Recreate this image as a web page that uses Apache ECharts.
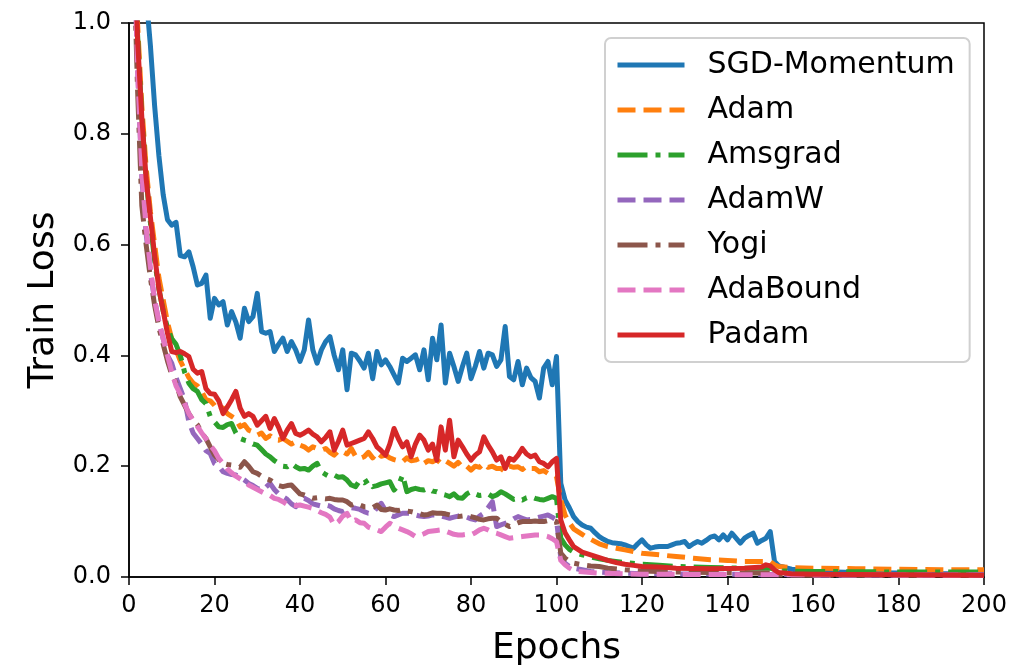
<!DOCTYPE html>
<html>
<head>
<meta charset="utf-8">
<script src="https://cdn.jsdelivr.net/npm/echarts@6/dist/echarts.min.js"></script>
<style>html,body{margin:0;padding:0;background:#fff}#c{width:1009px;height:665px}</style>
</head>
<body>
<div id="c"></div>
<script>
// ---- data: [epoch, train loss] pairs ----
const seriesNames = ['SGD-Momentum','Adam','Amsgrad','AdamW','Yogi','AdaBound','Padam'];
const xTicks = [0,20,40,60,80,100,120,140,160,180,200];
const yTicks = [0.0,0.2,0.4,0.6,0.8,1.0];

const sgd = [[0,2.3],[1,1.8],[2,1.45],[3,1.2],[4,1.05],[5,0.96],[6,0.85],[7,0.76],[8,0.69],[9,0.645],[10,0.635],[11,0.64],[12,0.58],[13,0.578],[14,0.587],[15,0.56],[16,0.527],[17,0.53],[18,0.545],[19,0.467],[20,0.503],[21,0.491],[22,0.497],[23,0.455],[24,0.479],[25,0.46],[26,0.431],[27,0.485],[28,0.461],[29,0.47],[30,0.512],[31,0.443],[32,0.44],[33,0.443],[34,0.407],[35,0.42],[36,0.431],[37,0.407],[38,0.425],[39,0.41],[40,0.389],[41,0.41],[42,0.464],[43,0.41],[44,0.386],[45,0.41],[46,0.425],[47,0.434],[48,0.4],[49,0.374],[50,0.41],[51,0.338],[52,0.404],[53,0.401],[54,0.39],[55,0.377],[56,0.404],[57,0.358],[58,0.407],[59,0.383],[60,0.392],[61,0.38],[62,0.365],[63,0.35],[64,0.395],[65,0.389],[66,0.395],[67,0.401],[68,0.374],[69,0.41],[70,0.356],[71,0.431],[72,0.392],[73,0.455],[74,0.35],[75,0.404],[76,0.38],[77,0.353],[78,0.38],[79,0.404],[80,0.358],[81,0.38],[82,0.407],[83,0.377],[84,0.404],[85,0.401],[86,0.38],[87,0.392],[88,0.452],[89,0.362],[90,0.356],[91,0.389],[92,0.347],[93,0.377],[94,0.36],[95,0.353],[96,0.323],[97,0.377],[98,0.389],[99,0.347],[100,0.398],[101,0.169],[102,0.139],[103,0.125],[104,0.109],[105,0.1],[106,0.094],[107,0.09],[108,0.088],[109,0.08],[110,0.073],[111,0.068],[112,0.064],[113,0.062],[114,0.061],[115,0.06],[116,0.058],[117,0.055],[118,0.052],[119,0.06],[120,0.067],[121,0.058],[122,0.052],[123,0.054],[124,0.055],[125,0.055],[126,0.055],[127,0.058],[128,0.061],[129,0.062],[130,0.064],[131,0.055],[132,0.06],[133,0.064],[134,0.061],[135,0.066],[136,0.072],[137,0.074],[138,0.067],[139,0.076],[140,0.067],[141,0.079],[142,0.07],[143,0.061],[144,0.07],[145,0.075],[146,0.079],[147,0.061],[148,0.066],[149,0.07],[150,0.082],[151,0.028],[152,0.02],[153,0.018],[154,0.016],[155,0.014],[160,0.01],[170,0.008],[180,0.007],[190,0.006],[200,0.006]];

const adam = [[0,2.0],[1,1.3],[2,1.0],[3,0.85],[4,0.74],[5,0.66],[6,0.6],[7,0.54],[8,0.5],[9,0.46],[10,0.43],[11,0.41],[12,0.39],[13,0.375],[14,0.36],[15,0.35],[16,0.345],[17,0.335],[18,0.32],[19,0.318],[20,0.31],[21,0.3],[22,0.305],[23,0.295],[24,0.29],[25,0.285],[26,0.271],[27,0.275],[28,0.265],[29,0.262],[30,0.256],[31,0.26],[32,0.25],[33,0.255],[34,0.248],[35,0.247],[36,0.25],[37,0.245],[38,0.24],[39,0.244],[40,0.238],[41,0.235],[42,0.229],[43,0.235],[44,0.232],[45,0.229],[46,0.232],[47,0.225],[48,0.22],[49,0.228],[50,0.226],[51,0.222],[52,0.232],[53,0.218],[54,0.214],[55,0.217],[56,0.225],[57,0.215],[58,0.225],[59,0.218],[60,0.22],[61,0.215],[62,0.212],[63,0.21],[64,0.208],[65,0.215],[66,0.21],[67,0.211],[68,0.214],[69,0.205],[70,0.21],[71,0.208],[72,0.212],[73,0.205],[74,0.21],[75,0.205],[76,0.2],[77,0.207],[78,0.198],[79,0.2],[80,0.193],[81,0.2],[82,0.198],[83,0.205],[84,0.198],[85,0.2],[86,0.196],[87,0.196],[88,0.19],[89,0.2],[90,0.198],[91,0.199],[92,0.194],[93,0.2],[94,0.196],[95,0.196],[96,0.19],[97,0.192],[98,0.187],[99,0.186],[100,0.181],[101,0.14],[102,0.112],[103,0.098],[104,0.087],[105,0.082],[106,0.077],[107,0.072],[108,0.068],[110,0.06],[112,0.055],[114,0.052],[116,0.049],[118,0.046],[120,0.043],[124,0.04],[128,0.037],[132,0.034],[136,0.031],[140,0.03],[144,0.028],[148,0.028],[150,0.028],[151,0.022],[152,0.019],[155,0.017],[160,0.016],[170,0.015],[180,0.014],[190,0.013],[200,0.013]];

const amsgrad = [[0,2.0],[1,1.3],[2,0.98],[3,0.83],[4,0.72],[5,0.64],[6,0.57],[7,0.52],[8,0.48],[9,0.45],[10,0.43],[11,0.42],[12,0.4],[13,0.37],[14,0.35],[15,0.34],[16,0.335],[17,0.32],[18,0.313],[19,0.29],[20,0.28],[21,0.271],[22,0.27],[23,0.275],[24,0.277],[25,0.26],[26,0.25],[27,0.247],[28,0.245],[29,0.24],[30,0.238],[31,0.23],[32,0.222],[33,0.217],[34,0.21],[35,0.205],[36,0.2],[37,0.199],[38,0.205],[39,0.199],[40,0.195],[41,0.196],[42,0.193],[43,0.2],[44,0.205],[45,0.19],[46,0.185],[47,0.181],[48,0.184],[49,0.18],[50,0.181],[51,0.175],[52,0.166],[53,0.163],[54,0.175],[55,0.17],[56,0.175],[57,0.163],[58,0.165],[59,0.168],[60,0.17],[61,0.172],[62,0.157],[63,0.165],[64,0.184],[65,0.154],[66,0.158],[67,0.16],[68,0.158],[69,0.157],[70,0.16],[71,0.155],[72,0.154],[73,0.15],[74,0.148],[75,0.145],[76,0.15],[77,0.143],[78,0.142],[79,0.15],[80,0.154],[81,0.15],[82,0.147],[83,0.148],[84,0.15],[85,0.145],[86,0.148],[87,0.154],[88,0.15],[89,0.145],[90,0.14],[91,0.142],[92,0.139],[93,0.143],[94,0.145],[95,0.142],[96,0.14],[97,0.139],[98,0.142],[99,0.145],[100,0.142],[101,0.07],[102,0.058],[103,0.05],[104,0.045],[106,0.04],[108,0.036],[110,0.033],[112,0.03],[116,0.026],[120,0.023],[124,0.021],[128,0.019],[136,0.017],[144,0.016],[150,0.016],[152,0.011],[160,0.01],[180,0.009],[200,0.009]];

const adamw = [[0,1.9],[1,1.2],[2,0.92],[3,0.72],[4,0.62],[5,0.55],[6,0.5],[7,0.46],[8,0.43],[9,0.4],[10,0.386],[11,0.36],[12,0.34],[13,0.32],[14,0.28],[15,0.26],[16,0.25],[17,0.24],[18,0.228],[19,0.223],[20,0.205],[21,0.2],[22,0.19],[23,0.187],[24,0.185],[25,0.184],[26,0.18],[27,0.175],[28,0.169],[29,0.165],[30,0.16],[31,0.157],[32,0.162],[33,0.169],[34,0.158],[35,0.15],[36,0.145],[37,0.14],[38,0.132],[39,0.127],[40,0.135],[41,0.142],[42,0.138],[43,0.132],[44,0.13],[45,0.128],[46,0.13],[47,0.128],[48,0.123],[49,0.12],[50,0.118],[51,0.122],[52,0.125],[53,0.124],[54,0.122],[55,0.118],[56,0.115],[57,0.115],[58,0.125],[59,0.133],[60,0.12],[61,0.112],[62,0.109],[63,0.112],[64,0.115],[65,0.115],[66,0.115],[67,0.112],[68,0.11],[69,0.109],[70,0.11],[71,0.112],[72,0.112],[73,0.11],[74,0.108],[75,0.106],[76,0.108],[77,0.11],[78,0.112],[79,0.108],[80,0.105],[81,0.103],[82,0.11],[83,0.115],[84,0.125],[85,0.136],[86,0.091],[87,0.094],[88,0.097],[89,0.1],[90,0.105],[91,0.109],[92,0.106],[93,0.103],[94,0.104],[95,0.106],[96,0.108],[97,0.11],[98,0.112],[99,0.108],[100,0.103],[101,0.035],[102,0.025],[103,0.019],[104,0.016],[106,0.013],[108,0.01],[112,0.008],[120,0.006],[140,0.005],[160,0.004],[200,0.004]];

const yogi = [[0,1.8],[1,1.15],[2,0.88],[3,0.67],[4,0.6],[5,0.54],[6,0.49],[7,0.45],[8,0.42],[9,0.39],[10,0.365],[11,0.35],[12,0.325],[13,0.31],[14,0.295],[15,0.283],[16,0.275],[17,0.26],[18,0.25],[19,0.235],[20,0.22],[21,0.212],[22,0.205],[23,0.203],[24,0.202],[25,0.2],[26,0.198],[27,0.208],[28,0.2],[29,0.19],[30,0.187],[31,0.182],[32,0.178],[33,0.175],[34,0.17],[35,0.165],[36,0.163],[37,0.165],[38,0.166],[39,0.158],[40,0.15],[41,0.148],[42,0.145],[43,0.142],[44,0.143],[45,0.142],[46,0.141],[47,0.142],[48,0.14],[49,0.139],[50,0.139],[51,0.136],[52,0.13],[53,0.133],[54,0.13],[55,0.127],[56,0.127],[57,0.125],[58,0.13],[59,0.122],[60,0.121],[61,0.123],[62,0.121],[63,0.12],[64,0.122],[65,0.119],[66,0.118],[67,0.116],[68,0.114],[69,0.112],[70,0.113],[71,0.116],[72,0.115],[73,0.115],[74,0.114],[75,0.112],[76,0.11],[77,0.109],[78,0.11],[79,0.111],[80,0.109],[81,0.107],[82,0.104],[83,0.103],[84,0.105],[85,0.106],[86,0.106],[87,0.1],[88,0.095],[89,0.091],[90,0.095],[91,0.098],[92,0.1],[93,0.1],[94,0.1],[95,0.101],[96,0.1],[97,0.1],[98,0.102],[99,0.103],[100,0.1],[101,0.043],[102,0.034],[103,0.028],[104,0.025],[106,0.022],[108,0.02],[110,0.019],[112,0.016],[116,0.013],[120,0.011],[128,0.009],[136,0.008],[144,0.007],[150,0.007],[152,0.004],[160,0.003],[200,0.003]];

const adabound = [[0,1.9],[1,1.2],[2,0.92],[3,0.73],[4,0.63],[5,0.56],[6,0.5],[7,0.46],[8,0.43],[9,0.4],[10,0.37],[11,0.345],[12,0.33],[13,0.313],[14,0.295],[15,0.283],[16,0.272],[17,0.26],[18,0.25],[19,0.238],[20,0.228],[21,0.214],[22,0.205],[23,0.195],[24,0.188],[25,0.182],[26,0.177],[27,0.172],[28,0.166],[29,0.162],[30,0.158],[31,0.154],[32,0.15],[33,0.147],[34,0.142],[35,0.14],[36,0.136],[37,0.131],[38,0.13],[39,0.129],[40,0.13],[41,0.128],[42,0.126],[43,0.124],[44,0.12],[45,0.116],[46,0.113],[47,0.108],[48,0.094],[49,0.1],[50,0.11],[51,0.115],[52,0.1],[53,0.103],[54,0.098],[55,0.097],[56,0.09],[57,0.087],[58,0.085],[59,0.082],[60,0.09],[61,0.097],[62,0.093],[63,0.088],[64,0.085],[65,0.082],[66,0.078],[67,0.073],[68,0.075],[69,0.078],[70,0.082],[71,0.083],[72,0.084],[73,0.085],[74,0.083],[75,0.08],[76,0.077],[77,0.076],[78,0.076],[79,0.077],[80,0.076],[81,0.08],[82,0.085],[83,0.088],[84,0.085],[85,0.081],[86,0.079],[87,0.076],[88,0.073],[89,0.07],[90,0.071],[91,0.072],[92,0.073],[93,0.074],[94,0.075],[95,0.076],[96,0.076],[97,0.075],[98,0.073],[99,0.069],[100,0.064],[101,0.03],[102,0.022],[103,0.016],[104,0.012],[105,0.01],[108,0.008],[110,0.007],[120,0.005],[150,0.004],[200,0.003]];

const padam = [[0,2.0],[1,1.25],[2,0.97],[3,0.83],[4,0.72],[5,0.65],[6,0.58],[7,0.52],[8,0.48],[9,0.44],[10,0.407],[11,0.405],[12,0.407],[13,0.403],[14,0.398],[15,0.375],[16,0.368],[17,0.371],[18,0.34],[19,0.331],[20,0.33],[21,0.318],[22,0.295],[23,0.307],[24,0.32],[25,0.335],[26,0.305],[27,0.29],[28,0.295],[29,0.29],[30,0.274],[31,0.282],[32,0.29],[33,0.268],[34,0.286],[35,0.27],[36,0.25],[37,0.265],[38,0.277],[39,0.259],[40,0.256],[41,0.26],[42,0.265],[43,0.258],[44,0.253],[45,0.244],[46,0.252],[47,0.262],[48,0.229],[49,0.245],[50,0.265],[51,0.238],[52,0.241],[53,0.244],[54,0.247],[55,0.25],[56,0.262],[57,0.25],[58,0.235],[59,0.228],[60,0.22],[61,0.24],[62,0.268],[63,0.25],[64,0.235],[65,0.244],[66,0.217],[67,0.24],[68,0.256],[69,0.247],[70,0.229],[71,0.24],[72,0.211],[73,0.271],[74,0.229],[75,0.283],[76,0.217],[77,0.247],[78,0.235],[79,0.222],[80,0.211],[81,0.22],[82,0.226],[83,0.253],[84,0.238],[85,0.226],[86,0.211],[87,0.217],[88,0.196],[89,0.214],[90,0.211],[91,0.22],[92,0.232],[93,0.222],[94,0.217],[95,0.22],[96,0.208],[97,0.205],[98,0.199],[99,0.208],[100,0.214],[101,0.103],[102,0.08],[103,0.067],[104,0.055],[105,0.05],[106,0.045],[108,0.04],[110,0.035],[112,0.03],[114,0.026],[116,0.023],[118,0.021],[120,0.019],[124,0.018],[128,0.016],[136,0.015],[144,0.016],[148,0.018],[149,0.022],[150,0.02],[151,0.013],[152,0.008],[155,0.006],[160,0.005],[180,0.004],[200,0.003]];

const seriesData = [sgd, adam, amsgrad, adamw, yogi, adabound, padam];
const colors = ['#1f77b4','#ff7f0e','#2ca02c','#9467bd','#8c564b','#e377c2','#d62728'];
const dashes = ['solid',[18,8],[30,8,5,8],[18,8],[30,8,5,8],[18,8],'solid'];

const font = 'DejaVu Sans';
const chart = echarts.init(document.getElementById('c'), null, {renderer:'canvas'});
chart.setOption({
  animation: false,
  backgroundColor: '#fff',
  grid: {left:129, right:25, top:23, bottom:88, outerBoundsMode:'none', containLabel:false,
    show:true, borderColor:'#000', borderWidth:1.5, backgroundColor:'transparent'},
  xAxis: {
    type:'value', min:0, max:200, interval:20,
    name:'Epochs', nameLocation:'middle', nameGap:54,
    nameTextStyle:{fontFamily:font, fontSize:36, color:'#000'},
    axisLine:{show:true, onZero:false, lineStyle:{color:'#000', width:1.5}},
    axisTick:{show:true, length:8, lineStyle:{color:'#000', width:1.5}},
    axisLabel:{fontFamily:font, fontSize:24, color:'#000', margin:17,
      formatter: v => xTicks.includes(v) ? String(v) : ''},
    splitLine:{show:false}
  },
  yAxis: {
    type:'value', min:0, max:1, interval:0.2,
    name:'Train Loss', nameLocation:'middle', nameGap:66,
    nameTextStyle:{fontFamily:font, fontSize:36, color:'#000'},
    axisLine:{show:true, onZero:false, lineStyle:{color:'#000', width:1.5}},
    axisTick:{show:true, length:8, lineStyle:{color:'#000', width:1.5}},
    axisLabel:{fontFamily:font, fontSize:24, color:'#000', margin:18,
      formatter: v => v.toFixed(1)},
    splitLine:{show:false}
  },
  legend: {
    orient:'vertical', left:605, top:38,
    padding:[12,15,12,10],
    itemWidth:67, itemHeight:14, itemGap:15,
    backgroundColor:'rgba(255,255,255,0.85)',
    borderColor:'#d0d0d0', borderWidth:2, borderRadius:6,
    itemStyle:{color:'transparent', borderWidth:0, opacity:0},
    lineStyle:{width:5},
    textStyle:{fontFamily:font, fontSize:30, color:'#000', lineHeight:30, padding:[0,0,0,18]},
    data: seriesNames
  },
  series: seriesNames.map((n,i) => ({
    name:n, type:'line', data:seriesData[i], symbol:'none', showSymbol:false,
    clip:true, z: 2+i,
    lineStyle:{color:colors[i], width:5, type:dashes[i], cap:'butt', join:'round'},
    itemStyle:{color:colors[i]}
  }))
});
</script>
</body>
</html>
